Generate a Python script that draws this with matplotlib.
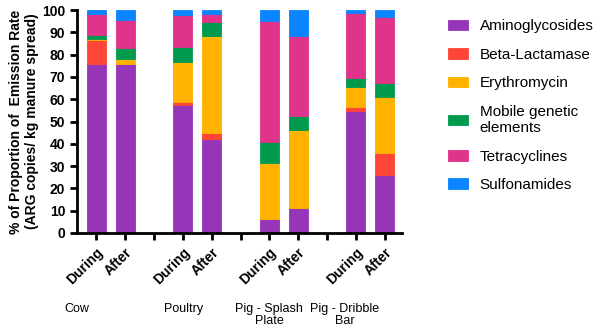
import matplotlib.pyplot as plt
import numpy as np

plt.rcParams["font.family"] = ["Liberation Sans", "DejaVu Sans"]

# slots: During/After per manure type, empty slot between groups
tick_labels = ["During", "After", "", "During", "After", "", "During", "After", "", "During", "After"]
bar_slots = [0, 1, 3, 4, 6, 7, 9, 10]
groups = ["Cow", "Poultry", "Pig - Splash\nPlate", "Pig - Dribble\nBar"]

classes = ["Aminoglycosides", "Beta-Lactamase", "Erythromycin",
           "Mobile genetic\nelements", "Tetracyclines", "Sulfonamides"]
colors = ["#9535B8", "#FF4438", "#FFB300", "#009A4E", "#E0338A", "#0A84FF"]

aminoglycosides = [76.0, 76.0, 57.5, 42.0, 6.3, 11.0, 54.7, 26.0]
beta_lactamase = [10.5, 0.0, 1.3, 2.8, 0.0, 0.2, 1.8, 10.0]
erythromycin = [0.5, 2.0, 17.8, 43.4, 25.2, 35.0, 9.1, 25.1]
mobile_genetic = [2.0, 5.0, 7.0, 6.6, 9.4, 6.3, 4.0, 6.0]
tetracyclines = [9.0, 12.7, 14.2, 3.5, 54.3, 35.8, 28.9, 29.8]
sulfonamides = [2.0, 4.3, 2.2, 1.7, 4.8, 11.7, 1.5, 3.1]

series = [aminoglycosides, beta_lactamase, erythromycin,
          mobile_genetic, tetracyclines, sulfonamides]

fig = plt.figure(figsize=(5.94, 3.27), dpi=100)
ax = fig.add_axes([77 / 594, 1 - 233 / 327, 325 / 594, 223 / 327])

bottom = np.zeros(len(bar_slots))
for name, vals, c in zip(classes, series, colors):
    vals = np.array(vals)
    ax.bar(bar_slots, vals, bottom=bottom, width=0.66, color=c,
           edgecolor=c, linewidth=0.6, label=name)
    bottom += vals

ax.set_xlim(-0.67, 10.6)
ax.set_ylim(0, 100)
ax.set_yticks(range(0, 101, 10))
ax.set_xticks(range(len(tick_labels)))
ax.set_xticklabels(tick_labels, rotation=45, ha="right", rotation_mode="anchor",
                   fontweight="bold", fontsize=10)
for lab in ax.get_yticklabels():
    lab.set_fontweight("bold")
    lab.set_fontsize(10)
ax.tick_params(width=2, length=5)
for s in ["top", "right"]:
    ax.spines[s].set_visible(False)
for s in ["left", "bottom"]:
    ax.spines[s].set_linewidth(2)

ax.set_ylabel("% of Proportion of  Emission Rate\n(ARG copies/ kg manure spread)",
              fontweight="bold", fontsize=10, labelpad=2)

trans = ax.get_xaxis_transform()
group_x = [-0.66, 3.03, 6.0, 8.6]
for gx, g in zip(group_x, groups):
    ax.text(gx, -0.315, g, transform=trans, ha="center", va="top",
            fontsize=9, linespacing=1.0)

ax.legend(loc="upper left", bbox_to_anchor=(1.1, 1.02), frameon=False,
          fontsize=11, handlelength=1.3, handleheight=0.7,
          labelspacing=0.95, handletextpad=0.75)

fig.savefig("out.png", dpi=100)
